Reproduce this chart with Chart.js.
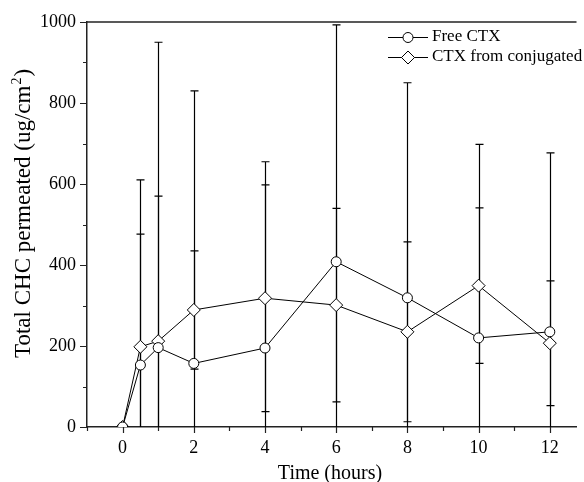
<!DOCTYPE html>
<html lang="en">
<head>
<meta charset="UTF-8">
<title>Total CHC permeated</title>
<script src="https://cdn.jsdelivr.net/npm/chart.js"></script>
<style>
  html, body { margin: 0; padding: 0; background: #fff; overflow: hidden; }
  #wrap { width: 584px; height: 482px; }
</style>
</head>
<body>
<div id="wrap"><canvas id="permChart" width="584" height="482"></canvas></div>
<script>
// sampling times (hours)
const times = [0, 0.5, 1, 2, 4, 6, 8, 10, 12];
// Free CTX mean and SD (ug/cm2)
const freeCtx = [0, 153, 196, 157, 195, 408, 319, 220, 235];
const freeCtxErr = [0, 457, 754, 673, 460, 585, 531, 478, 442];
// CTX from conjugated mean and SD (ug/cm2)
const conjCtx = [0, 198, 212, 289, 318, 301, 235, 349, 207];
const conjCtxErr = [0, 278, 358, 146, 280, 239, 222, 192, 154];

const xTickLabels = [0, 2, 4, 6, 8, 10, 12];
const yTickLabels = [0, 200, 400, 600, 800, 1000];
const seriesNames = ['Free CTX', 'CTX from conjugated'];
const xTitle = 'Time (hours)';
const yTitle = ['Total CHC permeated (ug/cm', '2', ')'];

const serif = "'Liberation Serif', 'Times New Roman', serif";
Chart.defaults.font.family = serif;
Chart.defaults.color = '#000';

const toPoints = (xs, ys) => xs.map((t, i) => ({ x: t, y: ys[i] }));

// vertical error bars with caps, kept inside the plot box
const errorBars = {
  id: 'errorBars',
  beforeDatasetsDraw(chart) {
    const { ctx, chartArea: a, scales: { x, y } } = chart;
    ctx.save();
    ctx.beginPath();
    ctx.rect(a.left, a.top, a.right - a.left, a.bottom - a.top);
    ctx.clip();
    ctx.strokeStyle = '#000';
    ctx.lineWidth = 1.2;
    chart.data.datasets.forEach(ds => {
      ds.data.forEach((p, i) => {
        const e = ds.errors[i];
        if (!e) return;
        const px = Math.round(x.getPixelForValue(p.x)) + 0.5;
        const top = y.getPixelForValue(p.y + e);
        const bot = y.getPixelForValue(p.y - e);
        ctx.beginPath();
        ctx.moveTo(px, top); ctx.lineTo(px, bot);
        ctx.moveTo(px - 4, top); ctx.lineTo(px + 4, top);
        ctx.moveTo(px - 4, bot); ctx.lineTo(px + 4, bot);
        ctx.stroke();
      });
    });
    ctx.restore();
  }
};

// outside ticks (long on labelled values), top frame line, axis titles and legend
const frame = {
  id: 'frame',
  afterDraw(chart) {
    const { ctx, chartArea: a, scales: { x, y } } = chart;
    ctx.save();
    ctx.strokeStyle = '#222';
    ctx.lineWidth = 1.5;
    ctx.beginPath();
    ctx.moveTo(a.left, a.top); ctx.lineTo(a.right, a.top);
    ctx.stroke();

    ctx.lineWidth = 1.2;
    ctx.beginPath();
    y.ticks.forEach(t => {
      const py = Math.round(y.getPixelForValue(t.value)) + 0.5;
      const len = yTickLabels.includes(t.value) ? 7 : 4;
      ctx.moveTo(a.left - len, py); ctx.lineTo(a.left, py);
    });
    x.ticks.forEach(t => {
      const px = Math.round(x.getPixelForValue(t.value)) + 0.5;
      const len = xTickLabels.includes(t.value) ? 6 : 4;
      ctx.moveTo(px, a.bottom); ctx.lineTo(px, a.bottom + len);
    });
    ctx.stroke();

    ctx.fillStyle = '#000';
    // x axis title
    ctx.font = `20px ${serif}`;
    ctx.textAlign = 'center';
    ctx.textBaseline = 'alphabetic';
    ctx.fillText(xTitle, 330, 479);

    // y axis title with superscript
    ctx.save();
    ctx.translate(30, 358);
    ctx.rotate(-Math.PI / 2);
    ctx.textAlign = 'left';
    ctx.font = `23px ${serif}`;
    const w0 = ctx.measureText(yTitle[0]).width;
    ctx.fillText(yTitle[0], 0, 0);
    ctx.font = `14px ${serif}`;
    const w1 = ctx.measureText(yTitle[1]).width;
    ctx.fillText(yTitle[1], w0 + 1, -9);
    ctx.font = `23px ${serif}`;
    ctx.fillText(yTitle[2], w0 + w1 + 2, 0);
    ctx.restore();

    // legend
    const lx = 388, tx = 432;
    const rows = [37, 57];
    ctx.textAlign = 'left';
    ctx.textBaseline = 'middle';
    chart.data.datasets.forEach((ds, i) => {
      const ry = rows[i] + 0.5;
      ctx.strokeStyle = '#000';
      ctx.lineWidth = 1;
      ctx.beginPath();
      ctx.moveTo(lx, ry); ctx.lineTo(lx + 40, ry);
      ctx.stroke();
      ctx.fillStyle = '#fff';
      Chart.helpers.drawPoint(ctx, {
        pointStyle: ds.pointStyle, radius: ds.pointRadius, borderWidth: 1, rotation: 0
      }, lx + 20, ry);
      ctx.fillStyle = '#000';
      ctx.font = `17px ${serif}`;
      ctx.fillText(seriesNames[i], tx, rows[i]);
    });
    ctx.restore();
  }
};

new Chart(document.getElementById('permChart'), {
  type: 'line',
  data: {
    datasets: [
      {
        label: seriesNames[0],
        data: toPoints(times, freeCtx),
        errors: freeCtxErr,
        borderColor: '#000', borderWidth: 1,
        pointStyle: 'circle', pointRadius: 5,
        pointBackgroundColor: '#fff', pointBorderColor: '#000', pointBorderWidth: 1,
        tension: 0, clip: 0
      },
      {
        label: seriesNames[1],
        data: toPoints(times, conjCtx),
        errors: conjCtxErr,
        borderColor: '#000', borderWidth: 1,
        pointStyle: 'rectRot', pointRadius: 6.5,
        pointBackgroundColor: '#fff', pointBorderColor: '#000', pointBorderWidth: 1,
        tension: 0, clip: 0
      }
    ]
  },
  options: {
    responsive: false,
    animation: false,
    devicePixelRatio: 1,
    layout: { padding: { top: 22, right: 0, bottom: 0, left: 0 } },
    plugins: { legend: { display: false }, tooltip: { enabled: false } },
    scales: {
      x: {
        type: 'linear', min: -1, max: 12.75,
        afterFit(s) { s.height = 55; },
        afterBuildTicks(s) {
          const ticks = [];
          for (let v = -1; v <= 12; v++) ticks.push({ value: v });
          s.ticks = ticks;
        },
        grid: { drawOnChartArea: false, drawTicks: false },
        border: { color: '#222', width: 1.5 },
        ticks: {
          padding: 10, font: { size: 18 }, color: '#000', autoSkip: false, maxRotation: 0,
          callback: v => xTickLabels.includes(v) ? String(v) : ''
        }
      },
      y: {
        min: 0, max: 1000,
        afterFit(s) { s.width = 87; },
        afterBuildTicks(s) {
          const ticks = [];
          for (let v = 0; v <= 1000; v += 100) ticks.push({ value: v });
          s.ticks = ticks;
        },
        grid: { drawOnChartArea: false, drawTicks: false },
        border: { color: '#222', width: 1.5 },
        ticks: {
          padding: 11, font: { size: 18 }, color: '#000', autoSkip: false,
          callback: v => yTickLabels.includes(v) ? String(v) : ''
        }
      }
    }
  },
  plugins: [errorBars, frame]
});
</script>
</body>
</html>
